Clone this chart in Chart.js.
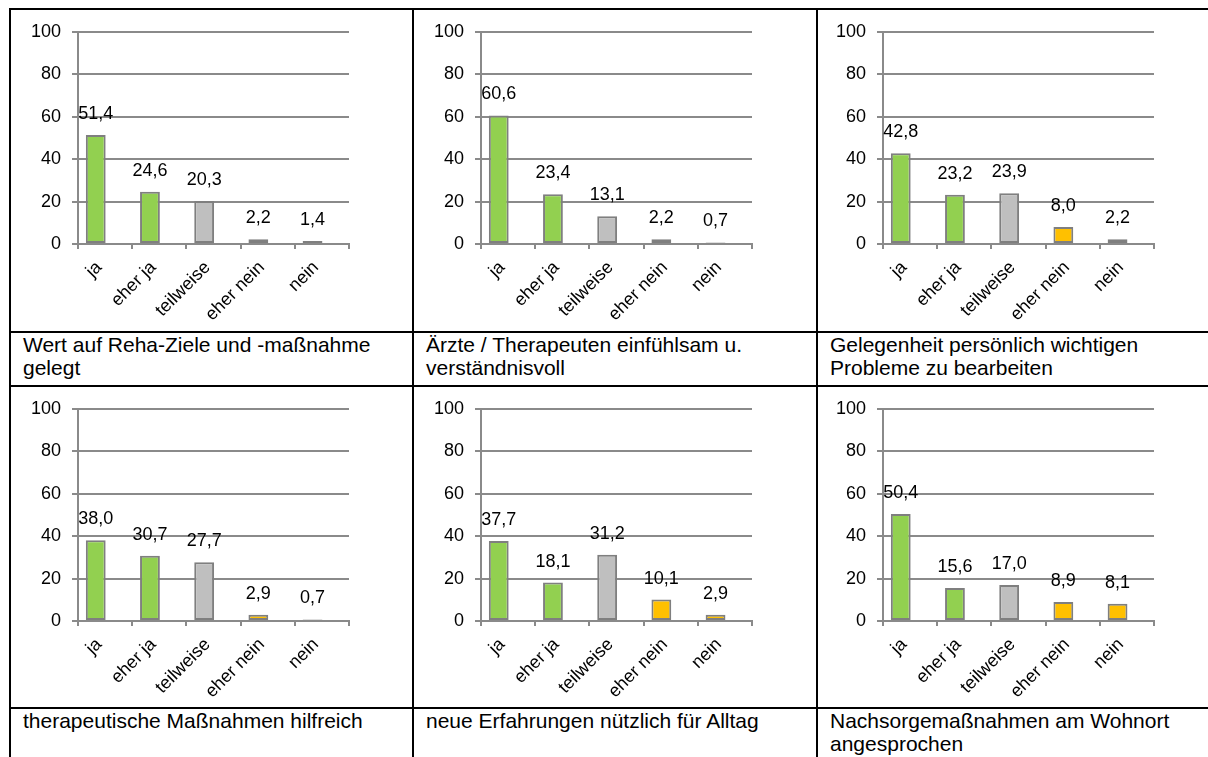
<!DOCTYPE html>
<html>
<head>
<meta charset="utf-8">
<script src="https://cdn.jsdelivr.net/npm/chart.js@4.4.1/dist/chart.umd.min.js"></script>
<style>
  html, body { margin: 0; padding: 0; background: #fff; }
  body { width: 1208px; height: 757px; position: relative; overflow: hidden;
         font-family: "Liberation Sans", Arial, sans-serif; }
  .hl { position: absolute; left: 9px; width: 1199px; height: 2px; background: #000; }
  .vl { position: absolute; top: 8px; width: 2px; height: 749px; background: #000; }
  .cap { position: absolute; font-size: 21px; line-height: 23px; color: #000; }
  canvas { position: absolute; }
</style>
</head>
<body>
<div class="hl" style="top:8px"></div>
<div class="hl" style="top:331px"></div>
<div class="hl" style="top:385px"></div>
<div class="hl" style="top:707px"></div>
<div class="vl" style="left:9px"></div>
<div class="vl" style="left:412px"></div>
<div class="vl" style="left:816px"></div>

<script>
// Answer categories and y-axis ticks
const categories = ['ja', 'eher ja', 'teilweise', 'eher nein', 'nein'];
const yTicks = [0, 20, 40, 60, 80, 100];

// Percentages per item
const rehaZiele      = [51.4, 24.6, 20.3, 2.2, 1.4];
const aerzteEinfuehl = [60.6, 23.4, 13.1, 2.2, 0.7];
const probleme       = [42.8, 23.2, 23.9, 8.0, 2.2];
const massnahmen     = [38.0, 30.7, 27.7, 2.9, 0.7];
const erfahrungen    = [37.7, 18.1, 31.2, 10.1, 2.9];
const nachsorge      = [50.4, 15.6, 17.0, 8.9, 8.1];

// Item captions
const captions = [
  'Wert auf Reha-Ziele und -maßnahme gelegt',
  'Ärzte / Therapeuten einfühlsam u. verständnisvoll',
  'Gelegenheit persönlich wichtigen Probleme zu bearbeiten',
  'therapeutische Maßnahmen hilfreich',
  'neue Erfahrungen nützlich für Alltag',
  'Nachsorgemaßnahmen am Wohnort angesprochen'
];

const series = [rehaZiele, aerzteEinfuehl, probleme, massnahmen, erfahrungen, nachsorge];

// Table geometry
const colBorder = [9, 412, 816];
const plotLeft = [78, 481, 883];
const rowTop = [10, 387];
const captionTop = [333, 709];
const captionWidth = [378, 378, 370];

const AXIS_W = 60, PLOT_W = 271, PAD_TOP = 20, PLOT_H = 214, XAXIS_H = 80, PAD_RIGHT = 40;

const FONT = '"Liberation Sans", Arial, sans-serif';
const GRID = '#8a8a8a';
const barFill = ['#92D050', '#92D050', '#BFBFBF', '#FFC000', '#FFC000'];

const fmt = v => v.toFixed(1).replace('.', ',');

// Value labels above the bars
const valueLabels = {
  id: 'valueLabels',
  afterDatasetsDraw(chart) {
    const ctx = chart.ctx;
    const meta = chart.getDatasetMeta(0);
    const data = chart.data.datasets[0].data;
    ctx.save();
    ctx.font = '18px ' + FONT;
    ctx.fillStyle = '#000';
    ctx.textAlign = 'center';
    ctx.textBaseline = 'middle';
    meta.data.forEach((bar, i) => {
      ctx.fillText(fmt(data[i]), bar.x, bar.y - 21);
    });
    ctx.restore();
  }
};

series.forEach((values, k) => {
  const col = k % 3, row = Math.floor(k / 3);

  const canvas = document.createElement('canvas');
  const w = AXIS_W + PLOT_W + PAD_RIGHT, h = PAD_TOP + PLOT_H + XAXIS_H;
  canvas.width = w; canvas.height = h;
  canvas.style.width = w + 'px'; canvas.style.height = h + 'px';
  canvas.style.left = (plotLeft[col] - AXIS_W) + 'px';
  canvas.style.top = rowTop[row] + 'px';
  document.body.appendChild(canvas);

  const cap = document.createElement('div');
  cap.className = 'cap';
  cap.textContent = captions[k];
  cap.style.left = (colBorder[col] + 14) + 'px';
  cap.style.top = captionTop[row] + 'px';
  cap.style.width = captionWidth[col] + 'px';
  document.body.appendChild(cap);

  new Chart(canvas, {
    type: 'bar',
    data: {
      labels: categories,
      datasets: [
        {
          data: values,
          backgroundColor: barFill,
          borderColor: '#7f7f7f',
          borderWidth: 2,
          borderSkipped: false
        },
        // second, empty series: keeps each bar in the left part of its category
        { data: categories.map(() => null) }
      ]
    },
    options: {
      responsive: false,
      animation: false,
      events: [],
      layout: { padding: { top: PAD_TOP, right: PAD_RIGHT, left: 0, bottom: 0 } },
      datasets: { bar: { categoryPercentage: 0.69, barPercentage: 1.06 } },
      plugins: { legend: { display: false }, tooltip: { enabled: false } },
      scales: {
        x: {
          offset: true,
          grid: { display: true, drawOnChartArea: false, drawTicks: true, tickLength: 5,
                  offset: true, color: GRID, lineWidth: 2 },
          border: { display: true, color: GRID, width: 2 },
          ticks: { autoSkip: false, minRotation: 45, maxRotation: 45, padding: 8, labelOffset: -6,
                   color: '#000', font: { family: FONT, size: 18 } },
          afterFit: s => { s.height = XAXIS_H; }
        },
        y: {
          min: 0, max: 100,
          afterBuildTicks: s => { s.ticks = yTicks.map(v => ({ value: v })); },
          grid: { color: GRID, lineWidth: 2, drawTicks: true, tickLength: 6 },
          border: { display: true, color: GRID, width: 2 },
          ticks: { padding: 11, color: '#000', font: { family: FONT, size: 18 } },
          afterFit: s => { s.width = AXIS_W; }
        }
      }
    },
    plugins: [valueLabels]
  });
});
</script>
</body>
</html>
